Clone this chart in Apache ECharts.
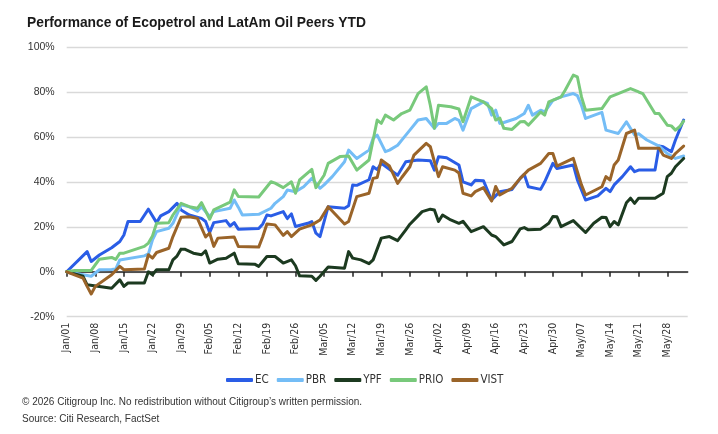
<!DOCTYPE html>
<html>
<head>
<meta charset="utf-8">
<script src="https://cdn.jsdelivr.net/npm/echarts@6/dist/echarts.min.js"></script>
<style>
  html, body { margin: 0; padding: 0; background: #ffffff; }
  #chart { width: 718px; height: 434px; }
</style>
</head>
<body>
<div id="chart"></div>
<script>
// ---- Data (day offsets from Jan 1, value = % change YTD) ----
const startYear = 2026;
const totalDays = 153; // Jan/01 .. Jun/02
const monthNames = ['Jan','Feb','Mar','Apr','May','Jun','Jul','Aug','Sep','Oct','Nov','Dec'];
const seriesNames = ['EC', 'PBR', 'YPF', 'PRIO', 'VIST'];

const ecDays = [0,5,6,8,11,13,14,15,18,20,22,23,25,27,28,30,33,34,35,36,39,40,41,42,47,48,49,50,53,54,55,56,59,60,61,62,64,68,69,70,71,74,75,76,77,81,83,86,89,90,91,93,96,97,99,100,102,104,106,109,111,112,113,116,117,119,120,124,125,127,130,132,133,134,136,138,139,140,144,145,146,148,149,151];
const ecVals = [0,9,4.6,7.5,10.7,13.5,16.4,22.4,22.4,27.9,21.9,24.9,26.8,30.5,27.5,25.3,23.8,22.4,17.5,21.9,22.8,20.4,21.9,19,19.3,21.3,25.3,24.9,26.8,23.7,25.8,20.2,21.6,22.4,17.2,15.7,29,28.3,29.4,38.7,38.5,41,46.8,45.5,48.3,43,49,49.8,49.5,45.3,51.2,50.8,47.6,40.1,38.7,40.8,40.6,32,35.7,36.7,41.6,43.4,37.9,36.7,40.1,48.3,46,47.6,40.9,32,33.8,37.2,35.7,38.7,42.4,46.8,44.6,45.3,45.3,56,55.7,53.5,58.7,67.6];

const pbrDays = [0,4,6,8,11,12,13,19,20,21,22,25,26,28,30,32,33,35,36,40,41,42,43,47,50,51,53,54,56,58,60,62,63,65,67,68,69,71,74,75,76,78,79,81,83,84,86,88,90,91,93,95,96,97,99,102,103,104,105,106,107,110,112,113,114,116,117,119,121,124,125,126,127,131,132,135,137,139,140,142,145,147,149,151];
const pbrVals = [0,-1.3,-2,0.9,1,1.2,5.3,7.1,8,14.2,17.9,19.4,21.6,29.8,29,27,29,24.6,26.8,28.3,32,28.8,25.3,25.6,28.3,30.5,33.5,36.4,35.7,37.9,41.6,37.2,38.7,42.4,46.8,49,54.2,50.5,54.2,59.4,60.9,53.5,54.2,56.4,60.9,63.1,67.6,68.3,63.9,66.1,66.1,68.3,67.5,63.1,72.7,75.7,75,69.8,72,66.1,66.5,68.3,70.5,74.2,69.8,72,71.2,76.4,77.9,79.4,78.5,74.2,68.3,71,63.1,61.6,66.8,60.9,61.5,58.7,56,52.7,50.5,51.6];

const ypfDays = [0,4,5,8,11,13,14,15,19,20,21,22,25,26,27,28,29,31,33,34,35,37,39,41,42,46,47,49,51,53,55,56,57,60,61,62,64,68,69,70,72,74,75,77,79,81,83,84,86,87,89,90,91,92,94,96,97,99,102,104,105,107,109,111,112,113,116,118,119,120,121,124,127,129,131,132,133,134,135,137,138,139,140,144,146,147,148,149,151];
const ypfVals = [0,-2,-5.8,-6.5,-7.3,-3.6,-6.5,-5,-5,0,-1.3,0.9,0.9,5.3,7,10.1,10,8.3,7.6,9.3,3.9,5.6,6,8.3,3.6,3.4,2.4,6.8,6.8,3.9,5.3,2.7,-1.8,-2,-3.8,-2,2.1,1.6,9,6.1,5.3,3.6,5.3,15,15.7,13.9,18.7,21.2,24.9,26.8,27.9,27.5,22.4,25.3,23.1,21.6,22.5,17.9,20.1,16.4,15.7,12,13.5,19.1,19.7,18.7,19,21.6,24.6,24.5,20.1,22.8,17.5,21.6,24.3,24.2,20.1,22.4,20.9,30.8,32.8,30.5,32.8,32.8,35,42.4,43.9,46.8,50.5];

const prioDays = [0,2,6,8,11,12,13,14,19,20,21,22,25,26,28,30,32,33,35,36,40,41,42,47,50,51,53,55,56,57,60,61,63,64,67,69,71,74,76,77,78,80,82,84,86,88,89,90,91,94,96,97,99,102,104,105,106,107,109,111,112,113,116,117,118,121,122,124,125,126,127,131,133,135,138,140,141,144,145,147,148,149,150,151];
const prioVals = [0,0.6,0.6,5.6,6.4,5.5,8.3,8.3,11.3,12.8,16,21.6,21.9,25.3,30.5,29,28.3,30.8,23.4,27.6,31,36.5,33.5,33.3,40.1,39.5,37.5,40.1,35,40.9,45.6,37.5,43,48.3,51.4,51.6,45.3,49.8,67.6,66.1,69.8,67.6,70.5,72,79.4,82.4,74.2,63.9,74.2,73.5,72.5,66.8,77.9,75.7,72.7,67.6,68.5,63.9,63.4,66.8,67,65.3,71.2,69.8,75.7,77.9,80.9,87.6,86.8,77.9,72,72.7,77.9,79.4,81.6,80.1,79.4,70.5,70.5,65.3,65,63.1,64.6,67.1];

const vistDays = [0,4,5,6,7,11,13,14,19,20,21,22,25,26,28,30,32,34,35,36,37,41,42,47,48,49,51,53,54,55,57,60,62,64,68,69,71,74,75,76,77,79,81,82,84,85,88,89,91,92,95,96,97,99,100,102,104,105,106,109,111,113,116,118,119,120,124,126,127,131,132,133,134,135,137,139,140,145,146,148,149,151];
const vistVals = [0,-2.8,-6.5,-9.9,-6.5,-1.3,2.4,0.9,1.2,7.6,6.1,8.6,10.5,15.7,24.3,24.5,23.8,15.5,17.2,11.3,15,15.5,11.3,11,15.7,21.3,20.9,16.2,17.9,15.7,19,20.9,23.1,29,21.3,22.4,33.5,35,41.6,42,49.8,47.1,39.4,42,46.8,52,57.2,55.7,42.4,46.8,45.3,44,35,33.8,35.7,37.5,31.5,38,34.2,37.2,41.6,45.3,48.3,52.7,52.7,47.1,50.5,38.7,34.2,37.9,42.4,40.9,47.6,49.8,61.6,63.1,55,55,52,50.5,52.7,56];

const yTicks = { min: -20, max: 100, interval: 20 };
const titleText = 'Performance of Ecopetrol and LatAm Oil Peers YTD';
const footnote1 = '\u00A9 2026 Citigroup Inc. No redistribution without Citigroup\u2019s written permission.';
const footnote2 = 'Source: Citi Research, FactSet';

// ---- Build categories (daily dates) ----
const categories = [];
for (let i = 0; i < totalDays; i++) {
  const d = new Date(Date.UTC(startYear, 0, 1 + i));
  categories.push(monthNames[d.getUTCMonth()] + '/' + String(d.getUTCDate()).padStart(2, '0'));
}

function pairs(days, vals) {
  const n = Math.min(days.length, vals.length);
  const out = [];
  for (let i = 0; i < n; i++) out.push([days[i], vals[i]]);
  return out;
}

const colors = ['#2a5de6', '#74bdf6', '#1c3a20', '#78c97b', '#9a6429'];
const seriesData = [pairs(ecDays, ecVals), pairs(pbrDays, pbrVals), pairs(ypfDays, ypfVals), pairs(prioDays, prioVals), pairs(vistDays, vistVals)];

const condensed = '"DejaVu Sans Condensed", "Liberation Sans", Arial, sans-serif';
const sans = '"Liberation Sans", Arial, sans-serif';

const chart = echarts.init(document.getElementById('chart'), null, { renderer: 'canvas' });
chart.setOption({
  animation: false,
  backgroundColor: '#ffffff',
  color: colors,
  title: {
    text: titleText,
    left: 22, top: 11,
    textStyle: { fontFamily: sans, fontSize: 13.8, fontWeight: 'bold', color: '#1a1a1a' }
  },
  grid: { left: 66.7, right: 30.3, top: 47.3, bottom: 117.3, containLabel: false },
  legend: {
    data: seriesNames,
    left: 221, top: 369,
    icon: 'roundRect',
    itemWidth: 27, itemHeight: 4, itemGap: 8,
    textStyle: { fontFamily: condensed, fontSize: 11.5, color: '#333', padding: [0, 0, 0, -3] }
  },
  xAxis: [
    {
      type: 'category',
      data: categories,
      boundaryGap: false,
      position: 'bottom',
      axisLine: { show: false, onZero: false },
      axisTick: { show: false },
      axisLabel: { interval: 6, rotate: 90, margin: 6, fontFamily: condensed, fontSize: 10.5, color: '#333' },
      splitLine: { show: false }
    },
    {
      type: 'category',
      data: categories,
      boundaryGap: false,
      position: 'top',
      axisLine: { show: true, onZero: true, lineStyle: { color: '#222', width: 1.5 } },
      axisTick: { show: true, inside: true, interval: 6, length: 5, lineStyle: { color: '#222', width: 1.5 } },
      axisLabel: { show: false },
      splitLine: { show: false }
    }
  ],
  yAxis: {
    type: 'value',
    min: yTicks.min, max: yTicks.max, interval: yTicks.interval,
    axisLine: { show: false },
    axisTick: { show: false },
    axisLabel: { formatter: '{value}%', margin: 12, fontFamily: sans, fontSize: 10.5, color: '#333' },
    splitLine: { show: true, lineStyle: { color: '#d9d9d9', width: 1.3 } }
  },
  graphic: [
    { type: 'text', left: 22, top: 397, style: { text: footnote1, font: '10px ' + sans, fill: '#333' } },
    { type: 'text', left: 22, top: 414, style: { text: footnote2, font: '10px ' + sans, fill: '#333' } }
  ],
  series: seriesNames.map((name, i) => ({
    name: name,
    type: 'line',
    xAxisIndex: 0,
    data: seriesData[i],
    symbol: 'none',
    showSymbol: false,
    lineStyle: { width: 3, join: 'round', cap: 'round' },
    emphasis: { disabled: true }
  }))
});
</script>
</body>
</html>
